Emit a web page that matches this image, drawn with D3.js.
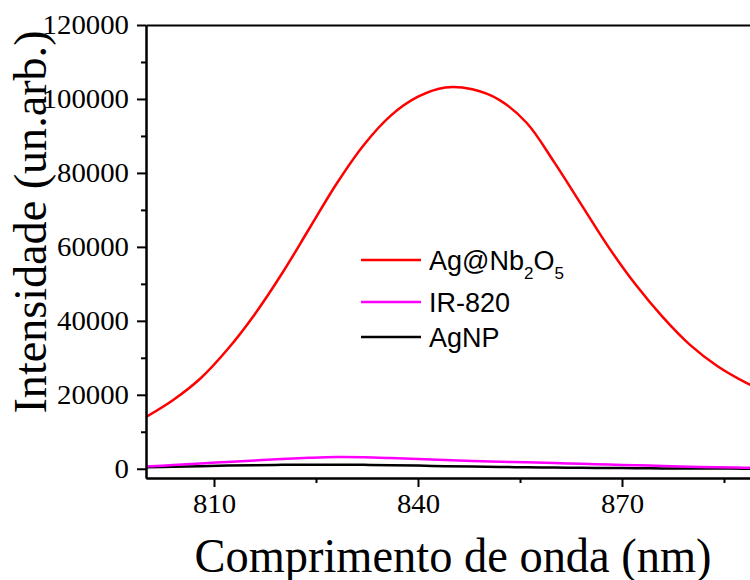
<!DOCTYPE html>
<html lang="pt">
  <head>
    <meta charset="utf-8">
    <title>Intensidade vs comprimento de onda</title>
    <script src="https://d3js.org/d3.v7.min.js"></script>
    <style>
      body { margin: 0; background: #fff; }
      svg { display: block; }
    </style>
  </head>
  <body>
    <script>
    // wavelength (nm) and intensity for each series
    var wavelength = [800, 804, 808, 812, 816, 820, 824, 828, 832, 836, 840, 844,
                      848, 852, 856, 860, 864, 868, 872, 876, 880, 884, 888, 892];
    var agNb2O5 = [14000, 18600, 24400, 32300, 41800, 52800, 64900, 77000, 87500, 95500, 100600, 103100,
                   102600, 99700, 93500, 83000, 71500, 60000, 49800, 41000, 33500, 27800, 23500, 20000];
    var ir820 = [600, 1000, 1450, 1850, 2250, 2650, 2950, 3150, 3100, 2900, 2650, 2350,
                 2100, 1900, 1750, 1550, 1350, 1150, 950, 750, 550, 400, 300, 250];
    var agNP = [400, 550, 700, 850, 950, 1050, 1100, 1100, 1050, 950, 850, 700,
                600, 500, 400, 330, 270, 200, 150, 100, 80, 50, 30, 20];

    var seriesNames = ["Ag@Nb2O5", "IR-820", "AgNP"];
    var seriesColors = ["#ff0000", "#ff00ff", "#000000"];
    var seriesValues = [agNb2O5, ir820, agNP];

    var xMajor = [810, 840, 870, 900];
    var xMinor = [825, 855, 885];
    var yMajor = [0, 20000, 40000, 60000, 80000, 100000, 120000];
    var yMinor = [10000, 30000, 50000, 70000, 90000, 110000];

    var W = 750, H = 580;
    var plotL = 146, plotR = 826, plotT = 25, plotB = 478;

    var svg = d3.select("body").append("svg")
        .attr("width", W)
        .attr("height", H);

    var x = d3.scaleLinear().domain([800, 900]).range([plotL, plotR]);
    var y = d3.scaleLinear().domain([-2500, 120000]).range([plotB, plotT]);

    var serif = "'Liberation Serif', 'Times New Roman', serif";
    var sans = "'Liberation Sans', Arial, sans-serif";

    // curves
    var line = d3.line()
        .x(function(d) { return x(d[0]); })
        .y(function(d) { return y(d[1]); })
        .curve(d3.curveCatmullRom);

    // draw black first so magenta/red sit on top
    [2, 1, 0].forEach(function(i) {
        var pts = wavelength.map(function(w, j) { return [w, seriesValues[i][j]]; });
        svg.append("path")
            .datum(pts)
            .attr("d", line)
            .attr("fill", "none")
            .attr("stroke", seriesColors[i])
            .attr("stroke-width", 2.5);
    });

    // axes
    function styleAxis(g) {
        g.selectAll("path.domain").attr("stroke", "#000").attr("stroke-width", 2);
        g.selectAll(".tick line").attr("stroke", "#000").attr("stroke-width", 2);
        // the original digits are a little wider than plain Times
        g.selectAll(".tick text")
            .attr("fill", "#000")
            .attr("textLength", function() { return this.textContent.length * 14.4; })
            .attr("lengthAdjust", "spacingAndGlyphs")
            .style("font-family", serif)
            .style("font-size", "27px");
    }

    svg.append("g")
        .attr("transform", "translate(" + plotL + ",0)")
        .call(d3.axisLeft(y).tickValues(yMajor).tickFormat(d3.format("d"))
            .tickSize(9).tickSizeOuter(0).tickPadding(8))
        .call(styleAxis);
    svg.append("g")
        .attr("transform", "translate(" + plotL + ",0)")
        .call(d3.axisLeft(y).tickValues(yMinor).tickFormat("").tickSize(5).tickSizeOuter(0))
        .call(styleAxis);

    svg.append("g")
        .attr("transform", "translate(0," + plotB + ")")
        .call(d3.axisBottom(x).tickValues(xMajor).tickFormat(d3.format("d"))
            .tickSize(9).tickSizeOuter(0).tickPadding(7))
        .call(styleAxis);
    svg.append("g")
        .attr("transform", "translate(0," + plotB + ")")
        .call(d3.axisBottom(x).tickValues(xMinor).tickFormat("").tickSize(5).tickSizeOuter(0))
        .call(styleAxis);

    svg.append("g")
        .attr("transform", "translate(0," + plotT + ")")
        .call(d3.axisTop(x).tickValues([]).tickSizeOuter(0))
        .call(styleAxis);

    // axis titles
    svg.append("text")
        .attr("transform", "translate(46,222) rotate(-90)")
        .attr("text-anchor", "middle")
        .attr("textLength", 383)
        .attr("lengthAdjust", "spacingAndGlyphs")
        .style("font-family", serif)
        .style("font-size", "47px")
        .text("Intensidade (un.arb.)");

    svg.append("text")
        .attr("x", 453)
        .attr("y", 572)
        .attr("text-anchor", "middle")
        .attr("textLength", 517)
        .attr("lengthAdjust", "spacingAndGlyphs")
        .style("font-family", serif)
        .style("font-size", "48px")
        .text("Comprimento de onda (nm)");

    // legend
    var legendY = [260, 302, 337];
    var legend = svg.append("g");
    seriesNames.forEach(function(name, i) {
        legend.append("line")
            .attr("x1", 361).attr("x2", 421)
            .attr("y1", legendY[i]).attr("y2", legendY[i])
            .attr("stroke", seriesColors[i])
            .attr("stroke-width", 2.5);
        var t = legend.append("text")
            .attr("x", 429)
            .attr("y", legendY[i])
            .attr("dy", "0.36em")
            .style("font-family", sans)
            .style("font-size", "27px");
        if (i === 0) {
            t.append("tspan").text("Ag@Nb");
            t.append("tspan").attr("dy", 9).style("font-size", "17px").text("2");
            t.append("tspan").attr("dy", -9).text("O");
            t.append("tspan").attr("dy", 9).style("font-size", "17px").text("5");
        } else {
            t.text(name);
        }
    });
    </script>
  </body>
</html>
